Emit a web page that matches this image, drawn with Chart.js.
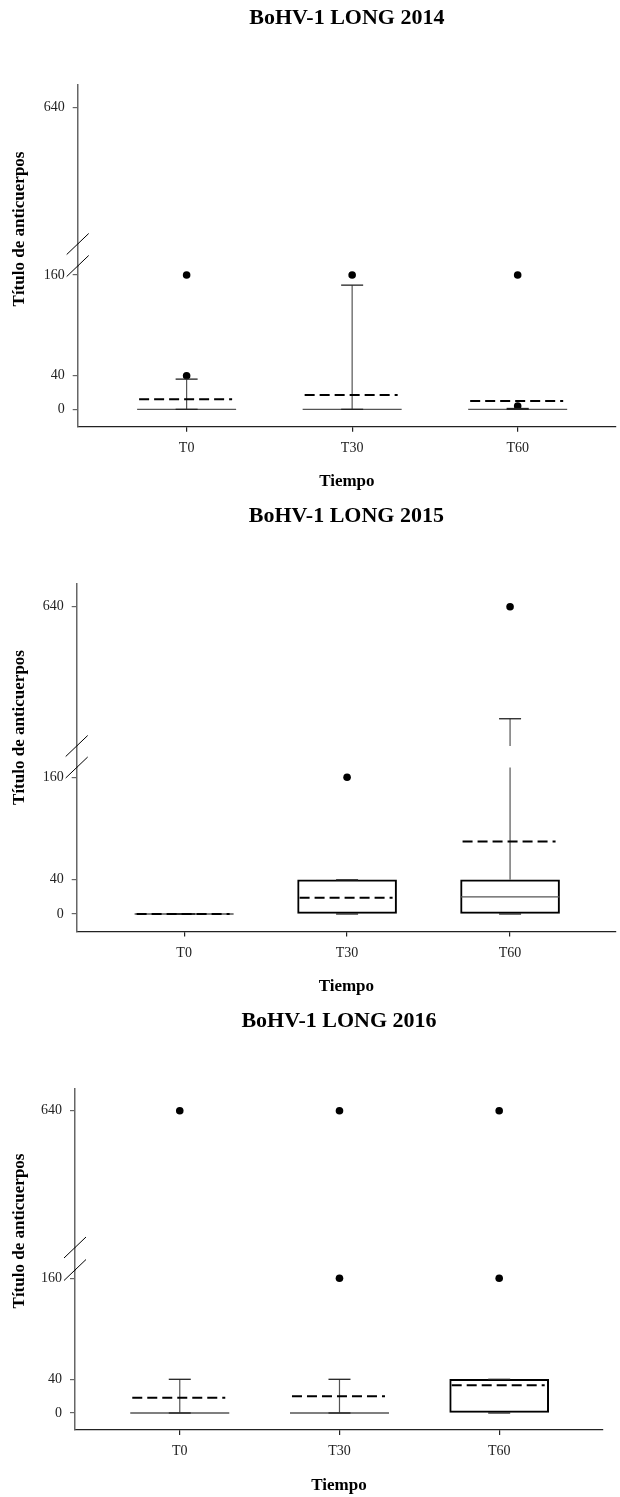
<!DOCTYPE html>
<html><head><meta charset="utf-8">
<script src="https://cdn.jsdelivr.net/npm/chart.js@4.4.1/dist/chart.umd.min.js"></script>
<style>
html,body{margin:0;padding:0;background:#fff;}
canvas{display:block;}
</style></head>
<body>
<canvas id="c2014" width="620" height="500"></canvas>
<canvas id="c2015" width="620" height="500"></canvas>
<canvas id="c2016" width="620" height="497"></canvas>
<script>
// ---------------- data ----------------
const categories = ['T0', 'T30', 'T60'];
const chartTitles = ['BoHV-1 LONG 2014', 'BoHV-1 LONG 2015', 'BoHV-1 LONG 2016'];
const yAxisTitle = 'Título de anticuerpos';
const xAxisTitle = 'Tiempo';
const lowerTicks = [0, 40, 160];
const upperTicks = [640];

// 2014
const q1_2014 = [0, 0, 0];
const median_2014 = [0, 0, 0];
const q3_2014 = [0, 0, 0];
const whiskerLow_2014 = [0, 0, 0];
const whiskerHigh_2014 = [36, 148, 1];
const mean_2014 = [12, 17, 10];
const outliers_2014 = [[40, 160], [160], [4, 160]];

// 2015
const q1_2015 = [0, 0, 0];
const median_2015 = [0, 0, 20];
const q3_2015 = [0, 40, 40];
const whiskerLow_2015 = [0, 0, 0];
const whiskerHigh_2015 = [0, 40, 270];
const mean_2015 = [0, 19, 85];
const outliers_2015 = [[], [160], [640]];

// 2016
const q1_2016 = [0, 0, 0];
const median_2016 = [0, 0, 0];
const q3_2016 = [0, 0, 40];
const whiskerLow_2016 = [0, 0, 0];
const whiskerHigh_2016 = [40, 40, 40];
const mean_2016 = [18, 20, 33];
const outliers_2016 = [[640], [160, 640], [160, 640]];

// ---------------- layout (positions / sizes) ----------------
const panelLayouts = [
  {axisX: 77.7, right: 618, top: 85, xAxisY: 426.7, H: 500, upH: 159, gapH: 22, lowH: 160.7,
   lowMin: -20.7, lowMax: 170.8, upMin: 180, upMax: 716.6, xMin: 0.342, xMax: 3.594,
   titleY: 18.3, yTitleY: 229, xTitlePad: 8.1},
  {axisX: 76.7, right: 618, top: 84, xAxisY: 431.5, H: 500, upH: 162, gapH: 21.5, lowH: 164,
   lowMin: -20.5, lowMax: 171.5, upMin: 180, upMax: 715, xMin: 0.341, xMax: 3.65,
   titleY: 16, yTitleY: 227.5, xTitlePad: 3.3},
  {axisX: 75, right: 603, top: 88.3, xAxisY: 430, H: 497, upH: 159.2, gapH: 22.5, lowH: 160,
   lowMin: -20.2, lowMax: 169.8, upMin: 180, upMax: 715.3, xMin: 0.344, xMax: 3.65,
   titleY: 21.7, yTitleY: 231, xTitlePad: 1.1}
];

const panels = [
  {id: 'c2014', q1: q1_2014, med: median_2014, q3: q3_2014, wl: whiskerLow_2014, wh: whiskerHigh_2014, mean: mean_2014, out: outliers_2014},
  {id: 'c2015', q1: q1_2015, med: median_2015, q3: q3_2015, wl: whiskerLow_2015, wh: whiskerHigh_2015, mean: mean_2015, out: outliers_2015},
  {id: 'c2016', q1: q1_2016, med: median_2016, q3: q3_2016, wl: whiskerLow_2016, wh: whiskerHigh_2016, mean: mean_2016, out: outliers_2016}
];

Chart.defaults.font.family = "'Liberation Serif', 'Times New Roman', serif";
Chart.defaults.color = '#222';

const BOX_W = 99;

function makeBoxPlugin(st) {
  return {
    id: 'boxParts',
    afterDatasetsDraw(chart) {
      const ctx = chart.ctx;
      const xs = chart.scales.x, lo = chart.scales.yLow, up = chart.scales.yUp;
      const half = BOX_W / 2;
      const lowMax = lo.max;
      const yOf = v => (v <= lowMax ? lo.getPixelForValue(v) : up.getPixelForValue(v));
      function vseg(cx, a, b) {
        ctx.beginPath();
        if (b <= lowMax) {
          ctx.moveTo(cx, lo.getPixelForValue(a)); ctx.lineTo(cx, lo.getPixelForValue(b));
        } else {
          ctx.moveTo(cx, lo.getPixelForValue(a)); ctx.lineTo(cx, lo.top);
          ctx.moveTo(cx, up.bottom); ctx.lineTo(cx, up.getPixelForValue(b));
        }
        ctx.stroke();
      }
      function hseg(x1, x2, y) { ctx.beginPath(); ctx.moveTo(x1, y); ctx.lineTo(x2, y); ctx.stroke(); }
      ctx.save();
      categories.forEach((c, i) => {
        const cx = xs.getPixelForValue(i + 1);
        // whiskers
        ctx.strokeStyle = '#555'; ctx.lineWidth = 1.2; ctx.setLineDash([]);
        if (st.wh[i] > st.q3[i]) vseg(cx, st.q3[i], st.wh[i]);
        if (st.wl[i] < st.q1[i]) vseg(cx, st.wl[i], st.q1[i]);
        // median
        ctx.strokeStyle = '#555'; ctx.lineWidth = 1.3;
        if (st.med[i] > st.q1[i] && st.med[i] < st.q3[i] || st.q1[i] === st.q3[i]) hseg(cx - half, cx + half, yOf(st.med[i]));
        // caps
        ctx.strokeStyle = '#222'; ctx.lineWidth = 1.3;
        hseg(cx - 11, cx + 11, yOf(st.wh[i]));
        hseg(cx - 11, cx + 11, yOf(st.wl[i]));
        // mean (dashed)
        ctx.strokeStyle = '#000'; ctx.lineWidth = 2; ctx.setLineDash([10, 5]);
        hseg(cx - half + 2, cx + half - 4, yOf(st.mean[i]));
      });
      ctx.restore();
    }
  };
}

function makeTextPlugin(L, title) {
  return {
    id: 'panelText',
    afterDraw(chart) {
      const ctx = chart.ctx, ca = chart.chartArea;
      const lo = chart.scales.yLow, up = chart.scales.yUp;
      ctx.save();
      // title
      ctx.fillStyle = '#000';
      ctx.font = "bold 22px 'Liberation Serif', serif";
      ctx.textAlign = 'center'; ctx.textBaseline = 'middle';
      ctx.fillText(title, (ca.left + ca.right) / 2, L.titleY);
      // y title
      ctx.font = "bold 17px 'Liberation Serif', serif";
      ctx.translate(20, L.yTitleY);
      ctx.rotate(-Math.PI / 2);
      ctx.fillText(yAxisTitle, 0, 0);
      ctx.restore();
      // break slashes
      ctx.save();
      ctx.strokeStyle = '#000'; ctx.lineWidth = 1;
      [up.bottom, lo.top].forEach(y => {
        ctx.beginPath();
        ctx.moveTo(ca.left - 11, y + 10.5);
        ctx.lineTo(ca.left + 11, y - 10.5);
        ctx.stroke();
      });
      ctx.restore();
    }
  };
}

panels.forEach((p, k) => {
  const L = panelLayouts[k];
  const lowOut = [], upOut = [];
  p.out.forEach((arr, i) => arr.forEach(v => {
    if (v <= L.lowMax) lowOut.push({x: i + 1, y: v}); else upOut.push({x: i + 1, y: v});
  }));
  const yCommon = {
    position: 'left', stack: 'yaxis',
    border: {display: true, color: '#666', width: 1.5},
    grid: {display: true, drawOnChartArea: false, drawTicks: true, tickLength: 5, color: '#666', lineWidth: 1.2},
    ticks: {padding: 8, font: {size: 14}, color: '#222'},
    afterFit: s => { s.width = L.axisX; }
  };
  new Chart(document.getElementById(p.id), {
    type: 'bar',
    data: {
      datasets: [
        {type: 'bar', label: 'box', yAxisID: 'yLow', xAxisID: 'x',
         data: categories.map((c, i) => ({x: i + 1, y: [p.q1[i], p.q3[i]]})),
         backgroundColor: '#fff', borderColor: '#000', borderWidth: 2, borderSkipped: false,
         barThickness: BOX_W},
        {type: 'scatter', label: 'out low', yAxisID: 'yLow', xAxisID: 'x', data: lowOut,
         pointRadius: 3.8, backgroundColor: '#000', borderColor: '#000', borderWidth: 0},
        {type: 'scatter', label: 'out up', yAxisID: 'yUp', xAxisID: 'x', data: upOut,
         pointRadius: 3.8, backgroundColor: '#000', borderColor: '#000', borderWidth: 0}
      ]
    },
    options: {
      responsive: false, animation: false, events: [],
      layout: {padding: {top: L.top, left: 0, right: 620 - L.right, bottom: 0}},
      plugins: {legend: {display: false}, tooltip: {enabled: false}, title: {display: false}},
      scales: {
        x: {
          type: 'linear', position: 'bottom', min: L.xMin, max: L.xMax, offset: false,
          border: {display: true, color: '#222', width: 1.3},
          grid: {display: true, offset: false, drawOnChartArea: false, drawTicks: true, tickLength: 5, color: '#222', lineWidth: 1.2},
          afterBuildTicks: s => { s.ticks = categories.map((c, i) => ({value: i + 1})); },
          ticks: {padding: 8, font: {size: 14}, color: '#222', callback: v => categories[Math.round(v) - 1]},
          title: {display: true, text: xAxisTitle, font: {size: 17, weight: 'bold'}, color: '#000',
                  padding: {top: 0, bottom: L.xTitlePad}},
          afterFit: s => { s.height = L.H - L.xAxisY; }
        },
        yUp: Object.assign({}, yCommon, {
          type: 'linear', min: L.upMin, max: L.upMax, weight: 3, stackWeight: L.upH,
          afterBuildTicks: s => { s.ticks = upperTicks.map(v => ({value: v})); }
        }),
        yGap: Object.assign({}, yCommon, {
          type: 'linear', min: 0, max: 1, weight: 2, stackWeight: L.gapH,
          grid: {display: false}, ticks: {display: false},
          afterBuildTicks: s => { s.ticks = []; }
        }),
        yLow: Object.assign({}, yCommon, {
          type: 'linear', min: L.lowMin, max: L.lowMax, weight: 1, stackWeight: L.lowH,
          afterBuildTicks: s => { s.ticks = lowerTicks.map(v => ({value: v})); }
        })
      }
    },
    plugins: [makeBoxPlugin(p), makeTextPlugin(L, chartTitles[k])]
  });
});
</script>
</body></html>
